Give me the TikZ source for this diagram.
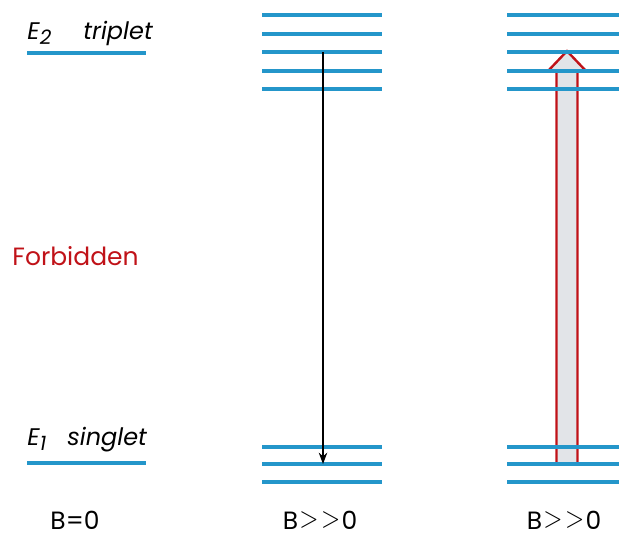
\documentclass[tikz,border=0pt]{standalone}
\usepackage{fontspec}
\setmainfont{Poppins}
\usetikzlibrary{arrows.meta, calc}
\definecolor{levelblue}{RGB}{36,150,202}
\definecolor{forbidred}{RGB}{192,18,24}
\definecolor{shaftgray}{RGB}{226,228,232}
\newcommand{\bigGt}{\kern0.05em\raisebox{0.1ex}{\scalebox{1.05}[1.25]{$>$}}\kern0.05em}

\begin{document}
\begin{tikzpicture}[
    x=0.5pt, y=-0.5pt,
    >=Stealth,
    level/.style={draw=levelblue, line width=2pt},
    lbl/.style={font=\fontsize{12}{14}\selectfont, inner sep=0pt},
    field/.style={font=\fontsize{12.5}{14}\selectfont, inner sep=0pt,
                  anchor=base},
    hollow/.style={draw=forbidred, fill=shaftgray, line width=1.2pt,
                   line join=miter}
  ]
  \useasboundingbox (0,0) rectangle (619,537);

  % B=0: the two bare levels
  \draw[level] (27,53) -- (146,53);
  \draw[level] (27,463) -- (146,463);
  \node[lbl, anchor=base west] (e2) at (27,39)
    {\textit{E}\raisebox{-0.45ex}{\fontsize{10}{12}\selectfont\textit{2}}};
  \node[lbl, anchor=base west] (trip) at (83,39) {\textit{triplet}};
  \node[lbl, anchor=base west] (e1) at (27,445)
    {\textit{E}\raisebox{-0.45ex}{\fontsize{10}{12}\selectfont\textit{1}}};
  \node[lbl, anchor=base west] (sing) at (67,445) {\textit{singlet}};
  \node[lbl, anchor=base west, text=forbidred,
        font=\fontsize{12.5}{15}\selectfont] (forb) at (12,265) {Forbidden};

  % hollow arrow (drawn under the levels)
  \coordinate (up0) at (567,464);
  \coordinate (up1) at (567,51);
  \draw[hollow] ($(up0)+(-10.5,0)$) |- ($(up1)+(-10.5,20)$) -- ++(-8.5,0)
    -- (up1) -- ($(up1)+(19,20)$) -- ++(-8.5,0) |- cycle;

  % split levels
  \foreach \y [count=\i] in {15,34,52,71,89} {
    \draw[level] (262,\y) -- (382,\y);
    \draw[level] (507,\y) -- (619,\y);
  }
  \foreach \y [count=\i] in {447,464,482} {
    \draw[level] (262,\y) -- (382,\y);
    \draw[level] (507,\y) -- (619,\y);
  }

  \coordinate (down0) at (323,52);
  \coordinate (down1) at (323,464);
  \draw[->, line width=0.6pt] (down0) -- (down1);

  \node[field] (b0) at (75,529) {B=0};
  \node[field] (b1) at (320,529) {B\bigGt\bigGt0};
  \node[field] (b2) at (564,529) {B\bigGt\bigGt0};
\end{tikzpicture}
\end{document}
